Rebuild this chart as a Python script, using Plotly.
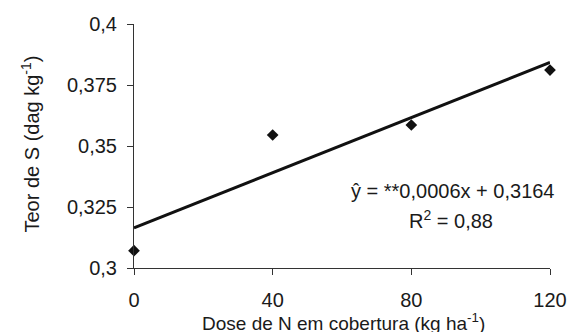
import numpy as np
import plotly.graph_objects as go

# Data
dose = [0, 40, 80, 120]
teor_s = [0.3071, 0.3545, 0.3586, 0.3811]
y_tick_vals = [0.3, 0.325, 0.35, 0.375, 0.4]
y_tick_text = ["0,3", "0,325", "0,35", "0,375", "0,4"]
x_tick_vals = [0, 40, 80, 120]
x_tick_text = ["0", "40", "80", "120"]

slope, intercept = np.polyfit(dose, teor_s, 1)
line_x = [min(dose), max(dose)]
line_y = [intercept + slope * v for v in line_x]

FONT = "Liberation Sans, Arial, sans-serif"
TXT = "#1a1a1a"
PW, PH = 426, 244  # plot area size in px

fig = go.Figure()
fig.add_trace(go.Scatter(x=line_x, y=line_y, mode="lines",
                         line=dict(color="#111111", width=3),
                         cliponaxis=False, showlegend=False))
fig.add_trace(go.Scatter(x=dose, y=teor_s, mode="markers",
                         marker=dict(symbol="diamond", size=9, color="#111111"),
                         cliponaxis=False, showlegend=False))

fig.update_layout(
    width=579, height=332,
    margin=dict(l=134, r=19, t=24, b=64),
    paper_bgcolor="white", plot_bgcolor="white",
    font=dict(family=FONT, size=20, color=TXT),
    xaxis=dict(range=[0, 120], tickvals=x_tick_vals, ticktext=x_tick_text,
               showgrid=False, zeroline=False, showline=True, linecolor="#333333",
               linewidth=1, ticks="outside", ticklen=6, tickcolor="#333333",
               ticklabelstandoff=8),
    yaxis=dict(range=[0.3, 0.4], tickvals=y_tick_vals, ticktext=y_tick_text,
               showgrid=False, zeroline=False, showline=True, linecolor="#333333",
               linewidth=1, ticks="outside", ticklen=6, tickcolor="#333333",
               ticklabelstandoff=6),
    annotations=[
        dict(text="Teor de S (dag kg<sup>-1</sup>)", textangle=-90,
             xref="paper", yref="paper", x=(27 - 134) / PW, y=(268 - 144) / PH,
             showarrow=False, xanchor="center", yanchor="middle",
             font=dict(size=20)),
        dict(text="Dose de N em cobertura (kg ha<sup>-1</sup>)",
             xref="paper", yref="paper", x=(349 - 134) / PW, y=(268 - 322) / PH,
             showarrow=False, xanchor="center", yanchor="middle",
             font=dict(size=19)),
        dict(text="ŷ = **0,0006x + 0,3164",
             xref="paper", yref="paper", x=(461 - 134) / PW, y=(268 - 191) / PH,
             showarrow=False, xanchor="center", yanchor="middle",
             font=dict(size=20)),
        dict(text="R<sup>2</sup> = 0,88",
             xref="paper", yref="paper", x=(459 - 134) / PW, y=(268 - 219) / PH,
             showarrow=False, xanchor="center", yanchor="middle",
             font=dict(size=20)),
    ],
)

fig.write_html("out.html")
